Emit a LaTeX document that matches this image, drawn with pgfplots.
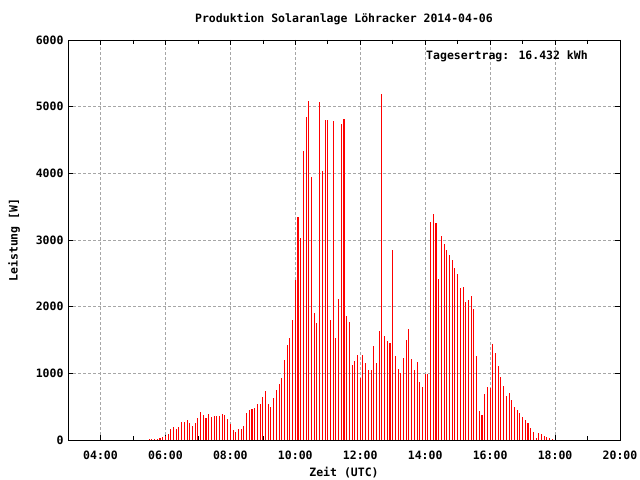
\documentclass[border=0pt]{standalone}
\usepackage{pgfplots}
\pgfplotsset{compat=1.18}
\usepackage{fontspec}
\setmainfont{DejaVu Sans Mono}
\newcommand{\gfont}{\fontsize{11.5bp}{14bp}\selectfont\bfseries}
\pgfplotstableread{
t p
330 15
335 15
340 15
345 15
350 30
355 45
360 60
365 90
370 165
375 195
380 165
385 195
390 270
395 270
400 300
405 255
410 210
415 255
420 330
425 420
430 375
435 330
440 390
445 345
450 360
455 360
460 360
465 390
470 375
475 315
480 240
485 150
490 120
495 165
500 165
505 210
510 405
515 450
520 465
525 480
530 540
535 540
540 645
545 735
550 540
555 500
560 635
565 755
570 845
575 935
580 1205
585 1425
590 1535
595 1805
600 2405
605 3350
610 3035
615 4340
620 4850
625 5085
630 3945
635 1905
640 1760
645 5070
650 4040
655 4805
660 4805
665 1805
670 4790
675 1535
680 2120
685 4745
690 4820
695 1865
700 1775
705 1130
710 1190
715 1280
720 935
725 1280
730 1160
735 1055
740 1055
745 1415
750 1160
755 1640
760 5190
765 1565
770 1490
775 1460
780 2855
785 1265
790 1070
795 1010
800 1235
805 1505
810 1670
815 1220
820 1055
825 1175
830 870
835 800
840 995
845 995
850 3275
855 3395
860 3260
865 2420
870 3065
875 2945
880 2855
885 2780
890 2705
895 2585
900 2495
905 2285
910 2300
915 2075
920 2105
925 2165
930 1970
935 1265
940 440
945 375
950 690
955 795
960 780
965 1445
970 1310
975 1115
980 945
985 810
990 660
995 705
1000 600
1005 495
1010 450
1015 405
1020 345
1025 300
1030 255
1035 180
1040 120
1045 30
1050 105
1055 90
1060 60
1065 45
1070 30
1075 15
}\datatable
\begin{document}
\begin{tikzpicture}
\path[use as bounding box] (0,0) rectangle (640bp,480bp);
\begin{axis}[
  at={(68bp,40bp)}, anchor=south west,
  width=552bp, height=400bp, scale only axis,
  xmin=180, xmax=1200, ymin=0, ymax=6000,
  xtick={240,360,480,600,720,840,960,1080,1200},
  xticklabels={04:00,06:00,08:00,10:00,12:00,14:00,16:00,18:00,20:00},
  minor xtick={300,420,540,660,780,900,1020,1140},
  ytick={0,1000,2000,3000,4000,5000,6000},
  yticklabels={0,1000,2000,3000,4000,5000,6000},
  scaled ticks=false,
  grid=major,
  major grid style={color=gray!70, dash pattern=on 3bp off 2bp, line width=0.6bp},
  tick align=inside,
  major tick length=5bp, minor tick length=4bp,
  every tick/.style={black, line width=0.6bp},
  axis line style={black, line width=0.8bp},
  tick label style={font=\gfont},
  xticklabel style={anchor=center, yshift=-15bp},
  yticklabel style={anchor=east, xshift=-1bp},
  title={Produktion Solaranlage Löhracker 2014-04-06},
  title style={font=\gfont, at={(axis description cs:0.5,1.0375)}, anchor=center},
  xlabel={Zeit (UTC)},
  xlabel style={font=\gfont, at={(axis description cs:0.5,-0.0805)}, anchor=center},
  ylabel={Leistung [W]},
  ylabel style={font=\gfont, at={(axis description cs:-0.0978,0.5)}, anchor=center, rotate=0},
]
\addplot[ycomb, color=red, line width=1.1bp, mark=none] table[x=t, y=p] {\datatable};
\node[anchor=west, inner sep=0pt, font=\gfont] at (axis description cs:0.6486,0.96) {Tagesertrag: 16.432 kWh};
\end{axis}
\end{tikzpicture}
\end{document}
